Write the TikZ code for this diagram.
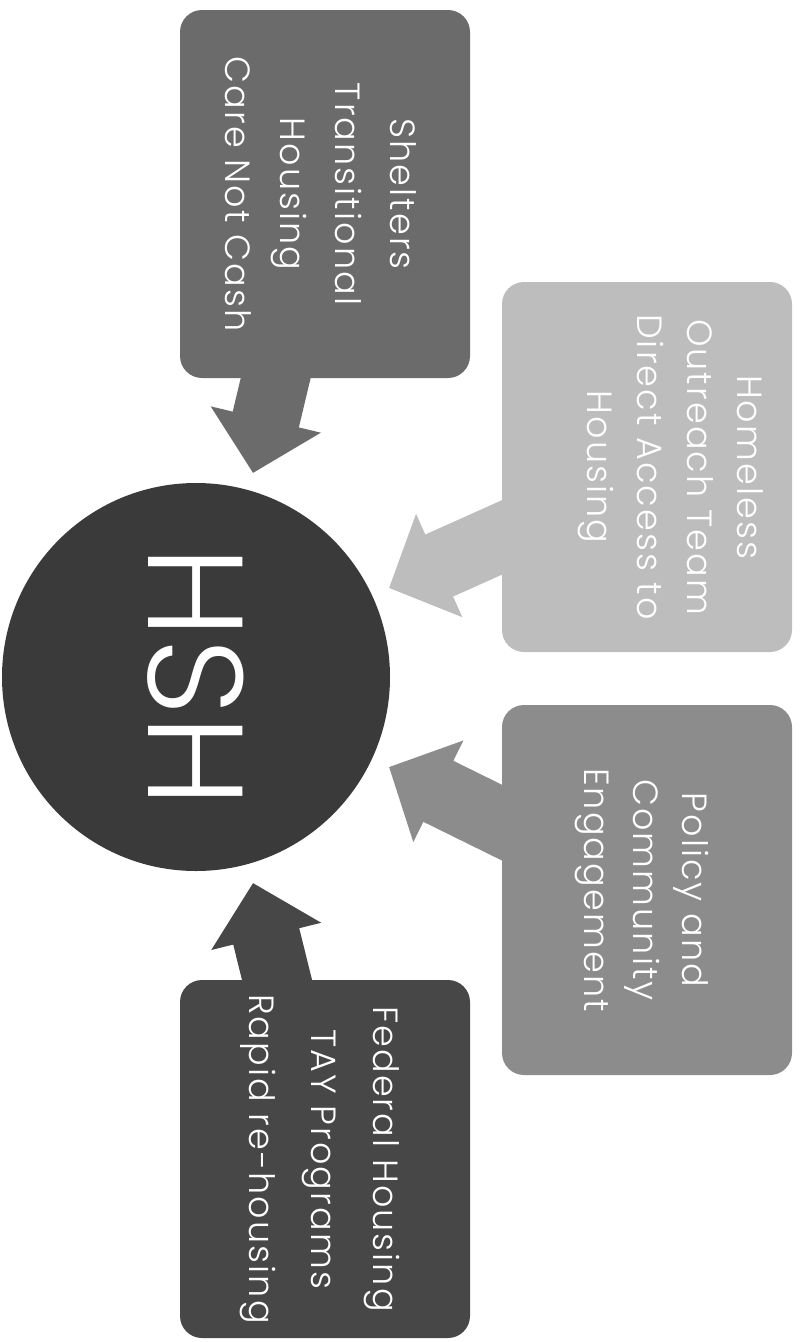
\documentclass[tikz,border=0pt]{standalone}
\usepackage{fontspec}
\setmainfont{Poppins}[UprightFont={* Light}, LetterSpace=6]
\newfontfamily\hubfont{Poppins}[UprightFont={* Light}]
\usetikzlibrary{arrows.meta,backgrounds}
\definecolor{cShel}{HTML}{6B6B6B}
\definecolor{cHome}{HTML}{BDBDBD}
\definecolor{cPol}{HTML}{8C8C8C}
\definecolor{cFed}{HTML}{474747}
\definecolor{cHub}{HTML}{3A3A3A}
\tikzset{
  boxshape/.style={rounded corners=22pt, inner sep=0pt, minimum width=290pt, minimum height=#1},
  boxtext/.style={rotate=-90, align=center, text=white, inner sep=0pt,
    font=\fontsize{35}{#1}\selectfont},
  blockarrow/.style={line width=68pt, -{Triangle[width=110pt,length=55pt]}},
}
\begin{document}
\begin{tikzpicture}[x=1pt,y=-1pt]
\useasboundingbox (0,0) rectangle (801,1342);
\node[boxshape=368pt, fill=cShel] (shel) at (325,194) {};
\node[boxshape=370pt, fill=cHome] (home) at (647,467) {};
\node[boxshape=370pt, fill=cPol] (pol) at (647,890) {};
\node[boxshape=358pt, fill=cFed] (fed) at (325,1159) {};
\node[boxtext=55pt] (shelt) at ([xshift=-4pt]shel.center) {Shelters\\Transitional\\Housing\\Care Not Cash};
\node[boxtext=50pt] (homet) at ([xshift=24pt]home.center) {Homeless\\Outreach Team\\Direct Access to\\Housing};
\node[boxtext=49pt] (polt) at ([xshift=-5pt]pol.center) {Policy and\\Community\\Engagement};
\node[boxtext=62pt] (fedt) at ([xshift=-5pt]fed.center) {Federal Housing\\TAY Programs\\Rapid re-housing};
\node[circle, fill=cHub, minimum size=388pt, inner sep=0pt, rotate=-90, text=white,
  font=\hubfont\fontsize{135}{135}\selectfont] (hub) at (196,677) {HSH};
\coordinate (s1) at (280,360); \coordinate (t1) at (253,473);
\coordinate (s2) at (523,528); \coordinate (t2) at (389,588);
\coordinate (s3) at (523,833); \coordinate (t3) at (389,767);
\coordinate (s4) at (282,1000); \coordinate (t4) at (253,883);
\begin{scope}[on background layer]
\draw[blockarrow, draw=cShel, fill=cShel] (s1) -- (t1);
\draw[blockarrow, draw=cHome, fill=cHome] (s2) -- (t2);
\draw[blockarrow, draw=cPol, fill=cPol] (s3) -- (t3);
\draw[blockarrow, draw=cFed, fill=cFed] (s4) -- (t4);
\end{scope}
\end{tikzpicture}
\end{document}
